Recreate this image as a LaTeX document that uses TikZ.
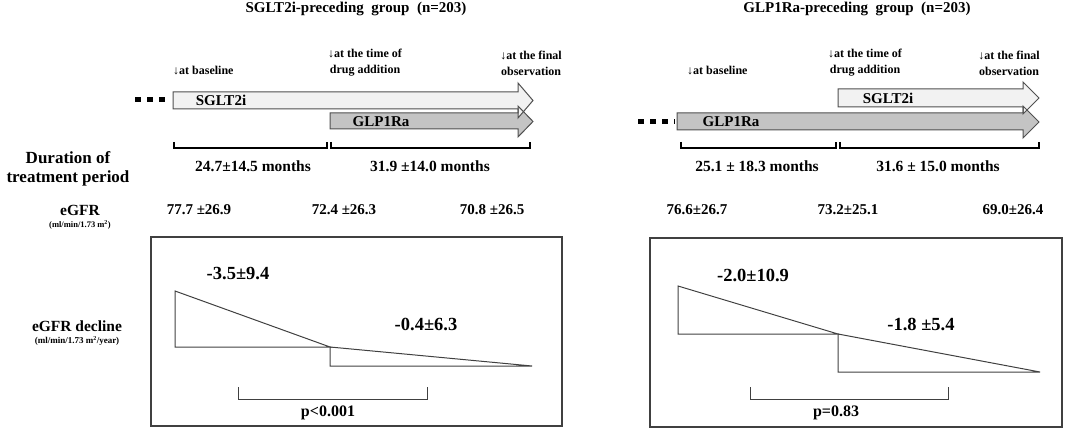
\documentclass[tikz,border=0pt]{standalone}
\usepackage{fontspec}
\setmainfont{Liberation Serif}
\definecolor{lightfill}{HTML}{F2F2F2}
\definecolor{darkfill}{HTML}{C4C4C4}
\definecolor{outl}{HTML}{505050}
\definecolor{boxline}{HTML}{404040}
\begin{document}
\begin{tikzpicture}[x=1pt,y=-1pt,
  lbl/.style={inner sep=0pt, font=\bfseries\fontsize{#1}{#1}\selectfont},
  lbl/.default=14,
  twol/.style={inner sep=0pt, align=center, font=\bfseries\fontsize{12}{16}\selectfont},
  arrowshape/.style={draw=outl, line width=1pt, line join=miter},
  brack/.style={draw=black, line width=2.4pt},
  frame/.style={draw=boxline, line width=1.3pt},
  tri/.style={draw=boxline, line width=1pt},
  pbrack/.style={draw=boxline, line width=1pt},
  dots/.style={line width=5pt, dash pattern=on 6pt off 6pt}]
\useasboundingbox (0,0) rectangle (1065,430);

% ---------- titles ----------
\node[lbl=15] (t1) at (356,9) {SGLT2i-preceding\ \ group\ \ (n=203)};
\node[lbl=15] (t2) at (857,9) {GLP1Ra-preceding\ \ group\ \ (n=203)};

% ---------- time labels ----------
\node[lbl=12, anchor=west] (b1) at (173,71) {\mdseries↓\bfseries at baseline};
\node[twol, anchor=west] (m1) at (328,63) {\mdseries↓\bfseries at the time of\\drug addition};
\node[twol, anchor=east] (f1) at (562,63) {\mdseries↓\bfseries at the final\\observation};
\node[lbl=12, anchor=west] (b2) at (687,71) {\mdseries↓\bfseries at baseline};
\node[twol, anchor=west] (m2) at (828,63) {\mdseries↓\bfseries at the time of\\drug addition};
\node[twol, anchor=east] (f2) at (1040,63) {\mdseries↓\bfseries at the final\\observation};

% ---------- arrows left ----------
\coordinate (dl1) at (135,100); \coordinate (dl2) at (171,100);
\draw[dots] (dl1) -- (dl2);
\fill[darkfill] (330,113) -- (518,113) -- (518,106) -- (533,121.5) -- (518,137) -- (518,129) -- (330,129) -- cycle;
\fill[lightfill] (173,92) -- (518,92) -- (518,83) -- (533,100.5) -- (518,118) -- (518,109) -- (173,109) -- cycle;
\draw[arrowshape] (330,113) -- (518,113) -- (518,106) -- (533,121.5) -- (518,137) -- (518,129) -- (330,129) -- cycle;
\draw[arrowshape] (173,92) -- (518,92) -- (518,83) -- (533,100.5) -- (518,118) -- (518,109) -- (173,109) -- cycle;
\node[lbl=15] (s1) at (221,100.5) {SGLT2i};
\node[lbl=15] (g1) at (381,121.5) {GLP1Ra};

% ---------- arrows right ----------
\coordinate (dr1) at (638,122); \coordinate (dr2) at (675,122);
\draw[dots] (dr1) -- (dr2);
\fill[darkfill] (677,113) -- (1023,113) -- (1023,106) -- (1039,122) -- (1023,138) -- (1023,130) -- (677,130) -- cycle;
\fill[lightfill] (838,89) -- (1023,89) -- (1023,82) -- (1039,98) -- (1023,114) -- (1023,107) -- (838,107) -- cycle;
\draw[arrowshape] (677,113) -- (1023,113) -- (1023,106) -- (1039,122) -- (1023,138) -- (1023,130) -- (677,130) -- cycle;
\draw[arrowshape] (838,89) -- (1023,89) -- (1023,82) -- (1039,98) -- (1023,114) -- (1023,107) -- (838,107) -- cycle;
\node[lbl=15] (s2) at (888,98) {SGLT2i};
\node[lbl=15] (g2) at (731,122) {GLP1Ra};

% ---------- duration brackets ----------
\draw[brack] (174,142) -- (174,148) -- (327,148) -- (327,142);
\draw[brack] (331,142) -- (331,148) -- (530,148) -- (530,142);
\draw[brack] (681,142) -- (681,148) -- (836,148) -- (836,142);
\draw[brack] (840,142) -- (840,148) -- (1039,148) -- (1039,142);

\node[inner sep=0pt, align=center, font=\bfseries\fontsize{17}{19}\selectfont] (dur) at (68,169) {Duration of\\treatment period};
\node[lbl=15.5] (d1) at (253,166) {24.7±14.5 months};
\node[lbl=15.5] (d2) at (430,166) {31.9 ±14.0 months};
\node[lbl=15.5] (d3) at (757,166) {25.1 ± 18.3 months};
\node[lbl=15.5] (d4) at (938,166) {31.6 ± 15.0 months};

% ---------- eGFR ----------
\node[lbl=15.5] (eg) at (80,210) {eGFR};
\node[inner sep=0pt, font=\bfseries\fontsize{8.5}{9}\selectfont] (egu) at (80,225) {(ml/min/1.73 m\textsuperscript{2})};
\node[lbl=15] (v1) at (199,210) {77.7 ±26.9};
\node[lbl=15] (v2) at (344,210) {72.4 ±26.3};
\node[lbl=15] (v3) at (492,210) {70.8 ±26.5};
\node[lbl=15] (v4) at (697,210) {76.6±26.7};
\node[lbl=15] (v5) at (848,210) {73.2±25.1};
\node[lbl=15] (v6) at (1013,210) {69.0±26.4};

% ---------- decline panels ----------
\node[lbl=15.5] (dec) at (77,326) {eGFR decline};
\node[inner sep=0pt, font=\bfseries\fontsize{9}{9}\selectfont] (decu) at (77,341) {(ml/min/1.73 m\textsuperscript{2}/year)};

\draw[frame] (151,237) rectangle (562,426);
\draw[frame] (650,238) rectangle (1062,427);

\coordinate (la) at (175,291); \coordinate (lb) at (175,347); \coordinate (lc) at (330,347);
\coordinate (ld) at (330,366); \coordinate (le) at (532,366);
\draw[tri] (la) -- (lb) -- (lc) -- cycle;
\draw[tri] (lc) -- (ld) -- (le) -- cycle;

\coordinate (ra) at (678,286); \coordinate (rb) at (678,334); \coordinate (rc) at (838,334);
\coordinate (rd) at (838,372); \coordinate (re) at (1040,372);
\draw[tri] (ra) -- (rb) -- (rc) -- cycle;
\draw[tri] (rc) -- (rd) -- (re) -- cycle;

\node[lbl=18.5] (r1) at (238,274) {-3.5±9.4};
\node[lbl=18.5] (r2) at (426,324) {-0.4±6.3};
\node[lbl=18.5] (r3) at (753,275) {-2.0±10.9};
\node[lbl=18.5] (r4) at (921,324) {-1.8 ±5.4};

\draw[pbrack] (238,387) -- (238,399) -- (427,399) -- (427,387);
\draw[pbrack] (750,387) -- (750,399) -- (948,399) -- (948,387);
\node[lbl=16] (p1) at (328,413) {p<0.001};
\node[lbl=16] (p2) at (836,413) {p=0.83};
\end{tikzpicture}
\end{document}
